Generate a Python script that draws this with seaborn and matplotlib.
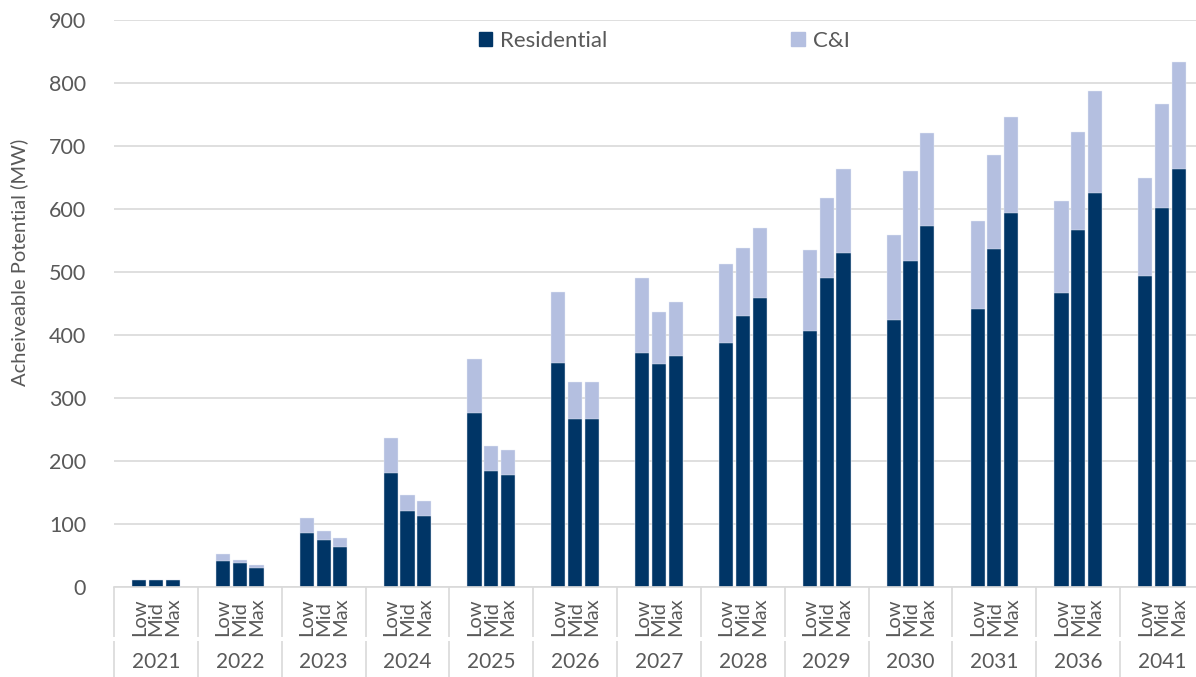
import pandas as pd
import numpy as np
import matplotlib.pyplot as plt
import matplotlib.transforms as mtransforms
from matplotlib.patches import Patch
import seaborn as sns

years = ['2021', '2022', '2023', '2024', '2025', '2026', '2027',
         '2028', '2029', '2030', '2031', '2036', '2041']
scenarios = ['Low', 'Mid', 'Max']

# Residential part of each bar (Low, Mid, Max per year)
residential_low = [11, 42, 85, 181, 276, 355, 371, 388, 406, 424, 442, 466, 494]
residential_mid = [11, 38, 75, 120, 184, 266, 354, 430, 490, 518, 537, 567, 601]
residential_max = [11, 30, 63, 112, 178, 266, 366, 458, 530, 573, 593, 625, 663]

# total bar height (Residential + C&I)
total_low = [11, 52, 109, 236, 362, 468, 490, 512, 535, 558, 581, 613, 650]
total_mid = [11, 43, 89, 146, 224, 325, 437, 538, 617, 661, 686, 723, 767]
total_max = [11, 35, 77, 137, 218, 326, 452, 570, 663, 721, 746, 787, 834]

DARK = '#003566'
LIGHT = '#B4BFE0'
GREY = '#595959'
GRID = '#D9D9D9'

rows = []
for i, y in enumerate(years):
    for s, res, tot in zip(scenarios,
                           [residential_low, residential_mid, residential_max],
                           [total_low, total_mid, total_max]):
        rows.append({'year': y, 'scenario': s, 'residential': res[i], 'total': tot[i]})
df = pd.DataFrame(rows)

sns.set_style('white')
plt.rcParams['font.family'] = ['Lato', 'DejaVu Sans']

fig = plt.figure(figsize=(11.96, 6.77), dpi=100)
ax = fig.add_axes([114 / 1196, 90 / 677, 1090 / 1196, 567 / 677])

common = dict(x='year', hue='scenario', order=years, hue_order=scenarios,
              width=0.6, gap=0.16, errorbar=None, legend=False, ax=ax,
              saturation=1, linewidth=0.3, edgecolor='#E8ECF6')
sns.barplot(data=df, y='total', palette=[LIGHT] * 3, **common)
sns.barplot(data=df, y='residential', palette=[DARK] * 3, **common)

ax.set_xlim(-0.5, len(years) - 0.5)
ax.set_ylim(0, 900)
ax.set_yticks(np.arange(0, 901, 100))
ax.yaxis.grid(True, color=GRID, linewidth=1.2)
ax.set_axisbelow(True)
for side in ['top', 'right', 'left']:
    ax.spines[side].set_visible(False)
ax.spines['bottom'].set_color(GRID)
ax.spines['bottom'].set_linewidth(1.2)
ax.tick_params(axis='y', length=0, pad=20, labelsize=15.5, labelcolor=GREY)
ax.set_xticks([])
ax.set_xlabel('')
ax.set_ylabel('Acheiveable Potential (MW)', fontsize=14.5, color=GREY)
ax.yaxis.set_label_coords(-0.079, 0.573)

# two-level category axis
trans = mtransforms.blended_transform_factory(ax.transData, ax.transAxes)
for i, y in enumerate(years):
    for j, s in enumerate(scenarios):
        ax.text(i + (j - 1) * 0.2, -0.087, s, rotation=90, ha='center', va='bottom',
                fontsize=14.5, color=GREY, transform=trans)
    ax.text(i, -0.132, y, ha='center', va='center', fontsize=15, color=GREY,
            transform=trans)
bounds = np.arange(-0.5, len(years), 1.0)
ax.vlines(bounds, -0.088, 0, color=GRID, linewidth=1.2, transform=trans, clip_on=False)
ax.vlines(bounds, -0.2, -0.095, color=GRID, linewidth=1.2, transform=trans, clip_on=False)

handles = [Patch(color=DARK, label='Residential'), Patch(color=LIGHT, label='C&I')]
fig.legend(handles=handles, loc='center', bbox_to_anchor=(664 / 1196, 1 - 41 / 677),
           ncol=2, frameon=False, fontsize=16, labelcolor=GREY,
           handlelength=0.6, handleheight=0.6, handletextpad=0.35, columnspacing=8.3)

fig.savefig('out.png', dpi=100)
